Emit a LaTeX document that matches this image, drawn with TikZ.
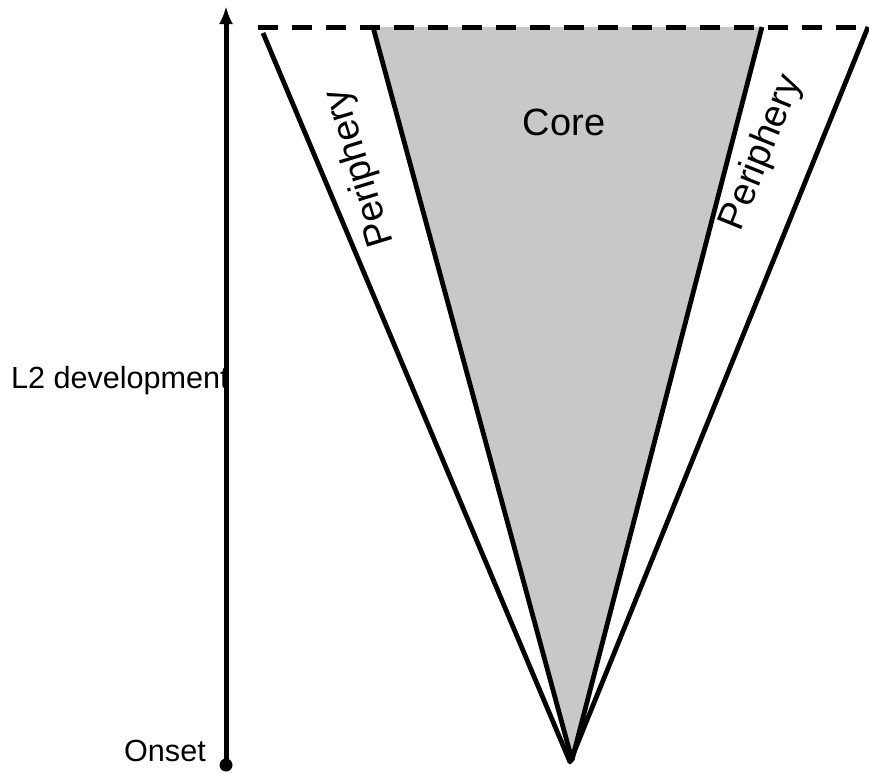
\documentclass[tikz,border=0pt]{standalone}
\usepackage{fontspec}
\setmainfont{Liberation Sans}
\usetikzlibrary{arrows.meta}
\definecolor{coregray}{RGB}{200,200,200}
\tikzset{
  edge/.style={line width=4.8pt,line join=round},
  lbl/.style={inner sep=0pt,font=\fontsize{30.6}{36}\selectfont},
  biglbl/.style={inner sep=0pt,font=\fontsize{38}{44}\selectfont}
}
\begin{document}
\begin{tikzpicture}[x=1pt,y=-1pt]
\useasboundingbox (0,0) rectangle (869,772);
\coordinate (vtx) at (570,762);
\coordinate (cvtx) at (572,760);
\coordinate (ctl) at (373,27);
\coordinate (ctr) at (762,27);
\coordinate (otl) at (263,33);
\coordinate (otr) at (868,27);
\coordinate (dl) at (258,27);
\coordinate (dr) at (869,27);
\coordinate (ax0) at (226,765);
\coordinate (ax1) at (226,6);
\fill[coregray] (ctl) -- (ctr) -- (cvtx) -- cycle;
\draw[edge] (ctr) -- (cvtx) -- (ctl);
\draw[edge] (otl) -- (vtx) -- (otr);
\draw[line width=5pt,dash pattern=on 20pt off 14pt] (dl) -- (dr);
\draw[line width=5pt,-{Latex[length=18pt,width=14pt]}] (ax0) -- (ax1);
\fill (ax0) circle (6.5);
\node[biglbl] (core) at (564,122) {Core};
\node[biglbl,rotate=107] (perl) at (360,168) {Periphery};
\node[biglbl,rotate=68] (perr) at (762,153) {Periphery};
\node[lbl,anchor=east] (dev) at (229,381) {L2 development};
\node[lbl,anchor=east] (onset) at (206,751) {Onset};
\end{tikzpicture}
\end{document}
